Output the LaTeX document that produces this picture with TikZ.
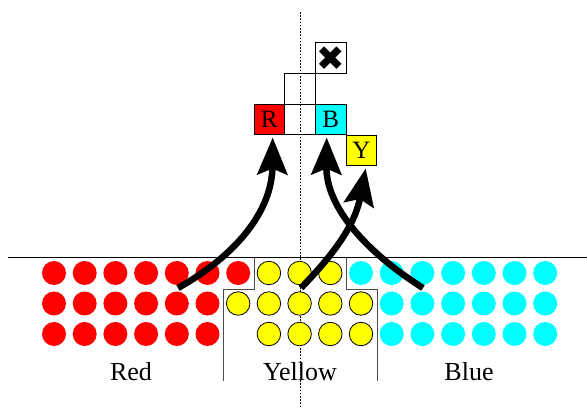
\documentclass[tikz,border=0pt]{standalone}
\usepackage{fontspec}
\setmainfont{Liberation Serif}
\newfontfamily\symfont{DejaVu Sans}
\usetikzlibrary{arrows.meta}
\definecolor{aqua}{RGB}{0,255,255}
\definecolor{pureyellow}{RGB}{255,255,0}
\definecolor{purered}{RGB}{255,0,0}
\begin{document}
\begin{tikzpicture}[x=1pt,y=-1pt,
  rc/.style={circle,fill=purered,minimum size=24pt,inner sep=0pt},
  yc/.style={circle,fill=pureyellow,draw=black,line width=0.8pt,minimum size=23.5pt,inner sep=0pt},
  cc/.style={circle,fill=aqua,minimum size=24pt,inner sep=0pt},
  cell/.style={draw=black,line width=0.9pt,minimum width=30.5pt,minimum height=30.5pt,inner sep=0pt,font=\fontsize{25}{25}\selectfont},
  lbl/.style={font=\fontsize{26}{26}\selectfont,anchor=base,inner sep=0pt},
  bound/.style={draw=black!70,line width=0.9pt},
  bigarrow/.style={line width=6.5pt,-{Stealth[length=37pt,width=30pt,inset=6pt]}}
]
\useasboundingbox (0,0) rectangle (587,409);
% vertical dotted axis
\coordinate (axtop) at (300,12);
\coordinate (axbot) at (300,409);
\draw[line width=0.8pt,dash pattern=on 1.6pt off 1.6pt] (axtop) -- (axbot);
% circles
\foreach \i in {0,...,6} \node[rc] (ra\i) at ({54+30.7*\i},273) {};
\foreach \i in {0,...,5} \node[rc] (rb\i) at ({54+30.7*\i},303.5) {};
\foreach \i in {0,...,5} \node[rc] (rc\i) at ({54+30.7*\i},334) {};
\foreach \i in {7,...,9} \node[yc] (ya\i) at ({54+30.7*\i},273) {};
\foreach \i in {6,...,10} \node[yc] (yb\i) at ({54+30.7*\i},303.5) {};
\foreach \i in {7,...,10} \node[yc] (yc\i) at ({54+30.7*\i},334) {};
\foreach \i in {10,...,16} \node[cc] (ca\i) at ({54+30.7*\i},273) {};
\foreach \i in {11,...,16} \node[cc] (cb\i) at ({54+30.7*\i},303.5) {};
\foreach \i in {11,...,16} \node[cc] (cd\i) at ({54+30.7*\i},334) {};
% surface line
\coordinate (hl) at (8,257.5);
\coordinate (hr) at (587,257.5);
\draw[line width=1.8pt] (hl) -- (hr);
% yellow region boundary
\draw[bound] (254,257.5) -- (254,289) -- (223,289) -- (223,381);
\draw[bound] (346,257.5) -- (346,289) -- (377,289) -- (377,381);
% labels
\node[lbl] (lred) at (131,380) {Red};
\node[lbl] (lyel) at (300,380) {Yellow};
\node[lbl] (lblue) at (469,380) {Blue};
% cells
\node[cell,fill=purered] (R) at (269.2,119.5) {R};
\node[cell] (M) at (300,119.5) {};
\node[cell,fill=aqua] (B) at (330.8,119.5) {B};
\node[cell,fill=pureyellow] (Y) at (361.5,150.3) {Y};
\node[cell] (U) at (300,88.8) {};
\node[cell] (X) at (330.8,58.2) {\symfont\fontsize{34}{34}\selectfont ✖};
% arrows
\coordinate (s1) at (178,288);
\coordinate (s2) at (301,288);
\coordinate (s3) at (423,288);
\coordinate (t1) at (272.7,137.5);
\coordinate (t2) at (365.7,168.5);
\coordinate (t3) at (326.7,137.5);
\draw[bigarrow] (s1) .. controls (235,256) and (272,212) .. (t1);
\draw[bigarrow] (s3) .. controls (366,252) and (326,207) .. (t3);
\draw[bigarrow] (s2) .. controls (326,262) and (354,230) .. (t2);
\end{tikzpicture}
\end{document}
